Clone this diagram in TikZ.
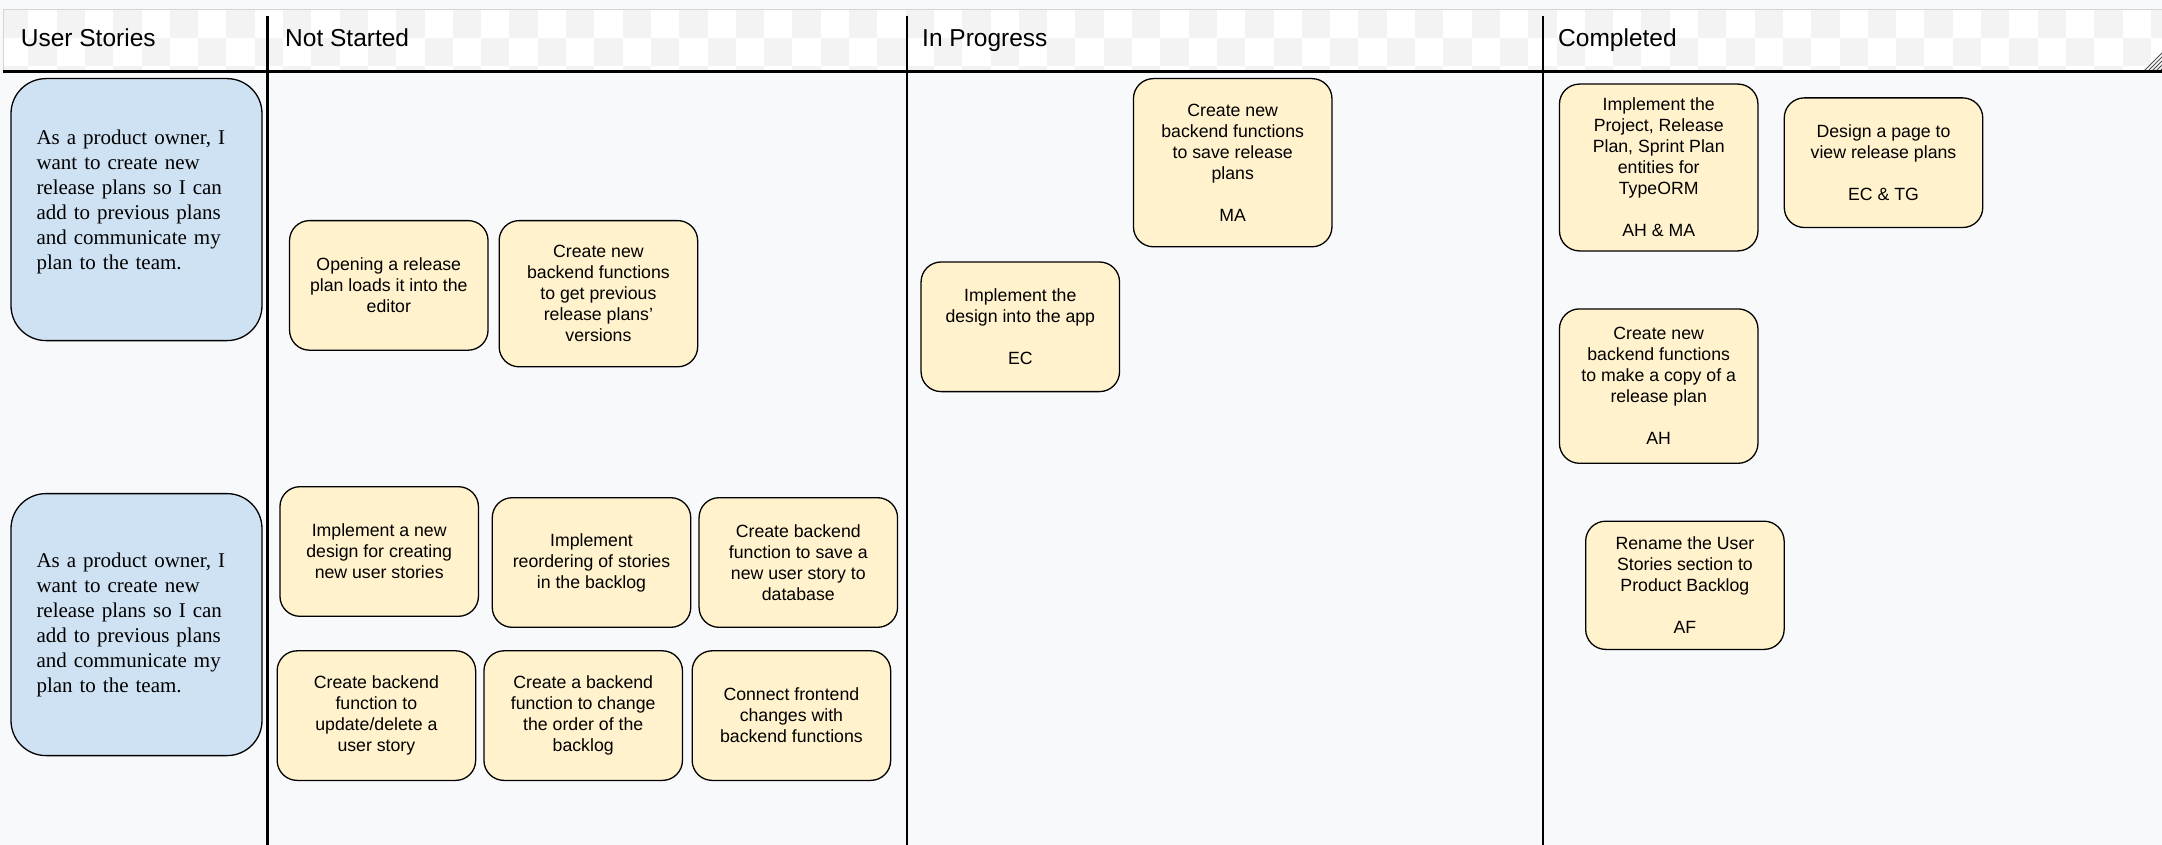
\documentclass[tikz,border=0pt]{standalone}
\usepackage{fontspec}
\setmainfont{Liberation Sans}
\newfontfamily\storyserif{Liberation Serif}
\definecolor{boardbg}{RGB}{248,249,251}
\definecolor{checkgray}{RGB}{243,243,243}
\definecolor{hdrgray}{RGB}{212,212,212}
\definecolor{storyblue}{RGB}{207,226,243}
\definecolor{taskyellow}{RGB}{255,242,204}

\begin{document}
\begin{tikzpicture}[x=1pt, y=-1pt,
    task/.style ={rounded corners=20pt, draw=black, line width=1.3pt, fill=taskyellow, inner sep=0pt,
      minimum width=198.5pt, minimum height=129.6pt, align=center, font=\fontsize{17.7}{21}\selectfont},
    story/.style ={rounded corners=35pt, draw=black, line width=1.3pt, fill=storyblue, minimum width=251pt,
      minimum height=262pt, text width=200pt, align=left, font=\storyserif\fontsize{21}{25}\selectfont},
    colhead/.style ={anchor=base west, inner sep=0pt, font=\fontsize{24.5}{29}\selectfont},
    divider/.style ={line width=2.8pt}]
   \useasboundingbox (0,0) rectangle (2162,845);
   \fill[boardbg] (0,0) rectangle (2162,845);

   \fill[white] (3,9.3) rectangle (2162,71.5);
   \begin{scope}
     \clip (3,9.3) rectangle (2162,71.5);
     \foreach \i in {0,2,...,76}{
       \fill[checkgray] (\i*28.3,9.3) rectangle ++(28.3,28.3);
       \fill[checkgray] (\i*28.3+28.3,37.6) rectangle ++(28.3,28.3);
       \fill[checkgray] (\i*28.3,65.9) rectangle ++(28.3,28.3);
     }
   \end{scope}
   \draw[hdrgray, line width=1pt] (3,71.5) -- (3,9.3) -- (2162,9.3);
   \begin{scope}
     \clip (2141,71.5) -- (2162,71.5) -- (2162,50) -- cycle;
     \foreach \k in {0,...,7}
       \draw[black!70, line width=0.8pt] (2136+\k*4,75) -- ++(28,-28);
   \end{scope}
   \draw[line width=3pt] (3,71.5) -- (2162,71.5);

   \draw[divider] (267.5,16) -- (267.5,845);
   \draw[divider] (907,16) -- (907,845);
   \draw[divider] (1543,16) -- (1543,845);

   \node[colhead] (hdrstories) at (20.7,47) {User Stories};
   \node[colhead] (hdrnot) at (285,47) {Not Started};
   \node[colhead] (hdrprog) at (922,47) {In Progress};
   \node[colhead] (hdrdone) at (1558,47) {Completed};

   \node[story, text depth=145.6pt] (storyA) at (136.5,209.6) {As a product owner, I\\want to create new\\release plans so I can\\add to previous plans\\and communicate my\\plan to the team.};
   \node[story] (storyB) at (136.5,624.6) {As a product owner, I\\want to create new\\release plans so I can\\add to previous plans\\and communicate my\\plan to the team.};

   \node[task] (open) at (388.8,285.4) {Opening a release\\plan loads it into the\\editor};
   \node[task, minimum height=146.2pt] (getprev) at (598.4,293.7) {Create new\\backend functions\\to get previous\\release plans'\\versions};
   \node[task] (newdesign) at (379.2,551.5) {Implement a new\\design for creating\\new user stories};
   \node[task] (reorder) at (591.5,562.5) {Implement\\reordering of stories\\in the backlog};
   \node[task] (savestory) at (798.3,562.5) {Create backend\\function to save a\\new user story to\\database};
   \node[task] (upddel) at (376.4,715.6) {Create backend\\function to\\update/delete a\\user story};
   \node[task] (chorder) at (583.2,715.6) {Create a backend\\function to change\\the order of the\\backlog};
   \node[task] (connect) at (791.4,715.6) {Connect frontend\\changes with\\backend functions};

   \node[task, minimum height=168.2pt] (saveplans) at (1232.7,162.7) {Create new\\backend functions\\to save release\\plans\\[21pt]MA};
   \node[task] (impldesign) at (1020.3,326.8) {Implement the\\design into the app\\[21pt]EC};

   \node[task, minimum height=166.8pt] (entities) at (1658.7,167.5) {Implement the\\Project, Release\\Plan, Sprint Plan\\entities for\\TypeORM\\[21pt]AH \& MA};
   \node[task] (viewpage) at (1883.5,162.7) {Design a page to\\view release plans\\[21pt]EC \& TG};
   \node[task, minimum height=154.4pt] (copyplan) at (1658.7,386.1) {Create new\\backend functions\\to make a copy of a\\release plan\\[21pt]AH};
   \node[task, minimum height=128.2pt] (rename) at (1684.9,585.3) {Rename the User\\Stories section to\\Product Backlog\\[21pt]AF};
 \end{tikzpicture}
\end{document}
